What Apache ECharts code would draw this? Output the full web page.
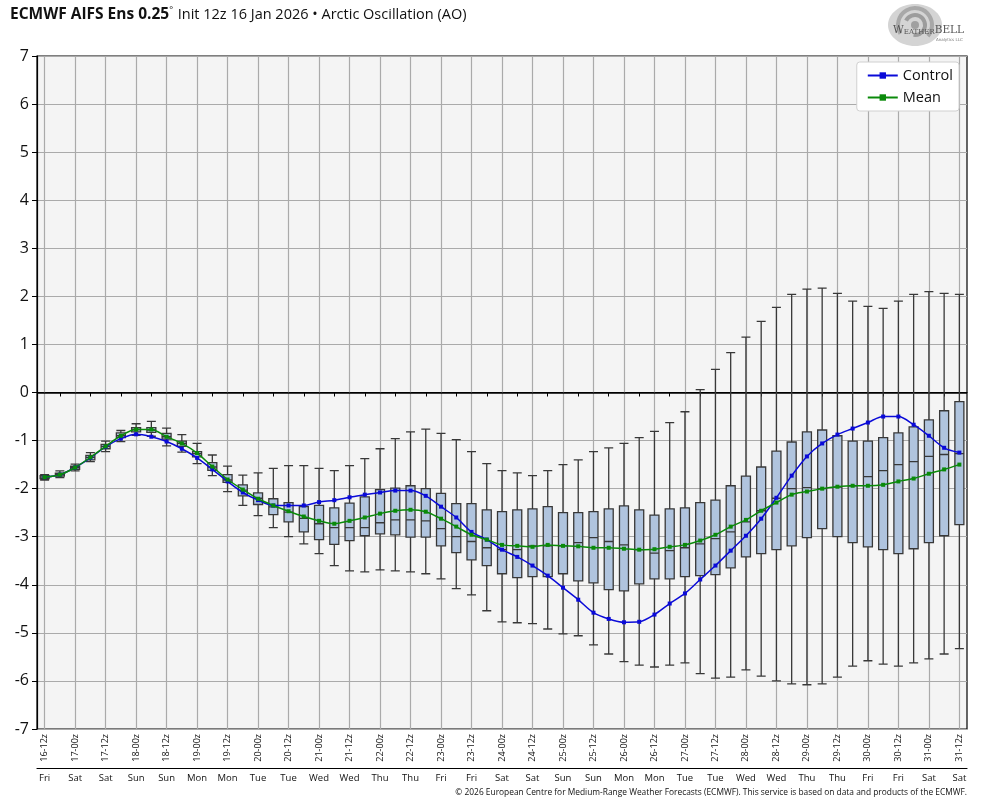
<!DOCTYPE html>
<html>
<head>
<meta charset="utf-8">
<script src="https://cdn.jsdelivr.net/npm/echarts@6/dist/echarts.min.js"></script>
<style>
html,body{margin:0;padding:0;background:#fff;}
#chart{width:984px;height:808px;}
</style>
</head>
<body>
<div id="chart"></div>
<script>
const categories = ['16-12z','16-18z',
 '17-00z','17-06z','17-12z','17-18z','18-00z','18-06z','18-12z','18-18z',
 '19-00z','19-06z','19-12z','19-18z','20-00z','20-06z','20-12z','20-18z',
 '21-00z','21-06z','21-12z','21-18z','22-00z','22-06z','22-12z','22-18z',
 '23-00z','23-06z','23-12z','23-18z','24-00z','24-06z','24-12z','24-18z',
 '25-00z','25-06z','25-12z','25-18z','26-00z','26-06z','26-12z','26-18z',
 '27-00z','27-06z','27-12z','27-18z','28-00z','28-06z','28-12z','28-18z',
 '29-00z','29-06z','29-12z','29-18z','30-00z','30-06z','30-12z','30-18z',
 '31-00z','31-06z','31-12z'];
const weekdayOfDay = {'16':'Fri','17':'Sat','18':'Sun','19':'Mon','20':'Tue','21':'Wed','22':'Thu','23':'Fri','24':'Sat','25':'Sun','26':'Mon','27':'Tue','28':'Wed','29':'Thu','30':'Fri','31':'Sat'};
const yTicks = {min:-7, max:7, interval:1};

const whiskerLow = [-1.82,-1.77,-1.63,-1.44,-1.23,-1.02,-0.89,-0.91,-1.11,-1.24,
 -1.48,-1.73,-2.06,-2.35,-2.56,-2.81,-3.00,-3.15,-3.35,-3.60,
 -3.71,-3.73,-3.69,-3.71,-3.73,-3.77,-3.875,-4.08,-4.21,-4.54,
 -4.77,-4.79,-4.81,-4.92,-5.02,-5.06,-5.25,-5.44,-5.60,-5.67,
 -5.71,-5.67,-5.625,-5.85,-5.94,-5.92,-5.77,-5.90,-6.00,-6.06,
 -6.08,-6.06,-5.92,-5.69,-5.58,-5.65,-5.69,-5.625,-5.54,-5.44,-5.33];
const boxLow = [-1.79,-1.74,-1.60,-1.40,-1.17,-0.94,-0.82,-0.83,-0.97,-1.12,
 -1.34,-1.62,-1.87,-2.15,-2.33,-2.54,-2.69,-2.90,-3.06,-3.16,
 -3.08,-2.98,-2.94,-2.96,-3.01,-3.01,-3.19,-3.33,-3.48,-3.60,
 -3.77,-3.85,-3.83,-3.83,-3.77,-3.92,-3.96,-4.10,-4.125,-3.98,
 -3.875,-3.875,-3.83,-3.81,-3.79,-3.65,-3.42,-3.35,-3.27,-3.19,
 -3.02,-2.83,-3.00,-3.125,-3.21,-3.27,-3.35,-3.25,-3.125,-2.98,-2.75];
const medians = [-1.76,-1.71,-1.56,-1.35,-1.12,-0.90,-0.77,-0.78,-0.92,-1.06,
 -1.27,-1.55,-1.82,-2.03,-2.20,-2.38,-2.49,-2.62,-2.73,-2.81,
 -2.81,-2.81,-2.71,-2.65,-2.65,-2.67,-2.83,-3.00,-3.10,-3.23,
 -3.27,-3.27,-3.19,-3.19,-3.19,-3.125,-3.02,-3.10,-3.17,-3.27,
 -3.34,-3.29,-3.23,-3.15,-3.04,-2.90,-2.69,-2.46,-2.20,-2.00,
 -1.98,-2.00,-1.97,-1.94,-1.75,-1.625,-1.50,-1.44,-1.33,-1.29,-1.27];
const boxHigh = [-1.73,-1.68,-1.53,-1.31,-1.08,-0.84,-0.73,-0.73,-0.85,-1.01,
 -1.23,-1.46,-1.71,-1.92,-2.09,-2.21,-2.29,-2.375,-2.35,-2.40,
 -2.30,-2.17,-2.02,-1.99,-1.94,-2.00,-2.10,-2.31,-2.31,-2.44,
 -2.48,-2.44,-2.42,-2.375,-2.50,-2.50,-2.48,-2.42,-2.36,-2.44,
 -2.55,-2.42,-2.40,-2.29,-2.24,-1.94,-1.74,-1.55,-1.22,-1.03,
 -0.82,-0.78,-0.90,-1.01,-1.01,-0.94,-0.84,-0.715,-0.57,-0.38,-0.19];
const whiskerHigh = [-1.71,-1.63,-1.49,-1.25,-1.01,-0.79,-0.65,-0.60,-0.74,-0.875,
 -1.06,-1.30,-1.53,-1.72,-1.67,-1.58,-1.52,-1.52,-1.58,-1.625,
 -1.52,-1.375,-1.17,-0.96,-0.82,-0.76,-0.85,-0.98,-1.23,-1.48,
 -1.625,-1.67,-1.73,-1.625,-1.50,-1.40,-1.23,-1.15,-1.06,-0.94,
 -0.81,-0.625,-0.40,0.06,0.48,0.83,1.15,1.48,1.77,2.04,
 2.15,2.17,2.06,1.90,1.79,1.75,1.90,2.04,2.10,2.06,2.04];
const controlValues = [-1.76,-1.71,-1.56,-1.36,-1.13,-0.96,-0.87,-0.92,-1.02,-1.17,
 -1.36,-1.60,-1.85,-2.08,-2.24,-2.35,-2.35,-2.35,-2.28,-2.24,
 -2.18,-2.125,-2.08,-2.04,-2.04,-2.15,-2.375,-2.60,-2.90,-3.06,
 -3.27,-3.42,-3.60,-3.81,-4.06,-4.31,-4.58,-4.71,-4.78,-4.77,
 -4.62,-4.39,-4.18,-3.89,-3.60,-3.29,-2.98,-2.625,-2.19,-1.73,
 -1.33,-1.06,-0.875,-0.75,-0.625,-0.50,-0.50,-0.67,-0.90,-1.15,-1.25];
const meanValues = [-1.76,-1.71,-1.56,-1.35,-1.12,-0.90,-0.77,-0.77,-0.92,-1.06,
 -1.26,-1.54,-1.81,-2.02,-2.21,-2.35,-2.47,-2.58,-2.67,-2.73,
 -2.67,-2.60,-2.52,-2.46,-2.44,-2.48,-2.625,-2.79,-2.96,-3.06,
 -3.17,-3.19,-3.21,-3.17,-3.19,-3.20,-3.23,-3.23,-3.25,-3.27,
 -3.26,-3.21,-3.17,-3.08,-2.96,-2.79,-2.65,-2.46,-2.29,-2.125,
 -2.06,-2.00,-1.96,-1.94,-1.94,-1.92,-1.85,-1.79,-1.69,-1.60,-1.50];

const boxData = categories.map((c, i) => [whiskerLow[i], boxLow[i], medians[i], boxHigh[i], whiskerHigh[i]]);
const gridLineMarks = categories.filter((c, i) => i % 2 === 0).map(c => ({xAxis: c}));

const FONT = '"Open Sans", "DejaVu Sans", sans-serif';
const chart = echarts.init(document.getElementById('chart'), null, {renderer: 'canvas'});

const option = {
  backgroundColor: '#ffffff',
  animation: false,
  textStyle: {fontFamily: FONT},
  title: {
    left: 5, top: 1,
    text: '{b|ECMWF AIFS Ens 0.25}{d|°} {n|Init 12z 16 Jan 2026 • Arctic Oscillation (AO)}',
    textStyle: {
      fontWeight: 'normal',
      rich: {
        b: {fontSize: 15.5, fontWeight: 'bold', color: '#111', fontFamily: FONT},
        d: {fontSize: 9, fontWeight: 'normal', color: '#111', verticalAlign: 'top', padding: [0,0,7,0], fontFamily: FONT},
        n: {fontSize: 14.5, fontWeight: 'normal', color: '#111', fontFamily: FONT}
      }
    }
  },
  legend: {
    right: 25, top: 62,
    orient: 'vertical',
    backgroundColor: '#ffffff',
    borderColor: '#d0d0d0', borderWidth: 1, borderRadius: 3,
    padding: [6, 6, 6, 10],
    itemGap: 7,
    itemWidth: 30, itemHeight: 8,
    textStyle: {fontSize: 14.5, color: '#111', fontFamily: FONT},
    data: ['Control', 'Mean']
  },
  grid: {
    left: 37, right: 17, top: 56, bottom: 79,
    show: true, backgroundColor: '#f4f4f4', borderColor: '#000', borderWidth: 1.2,
    containLabel: false
  },
  xAxis: [{
    type: 'category',
    data: categories,
    boundaryGap: true,
    axisLine: {show: true, lineStyle: {color: '#000', width: 1.2}},
    axisTick: {show: true, interval: 0, alignWithLabel: true, length: 4, lineStyle: {color: '#000'}},
    axisLabel: {interval: 1, rotate: 90, fontSize: 9, color: '#111', margin: 5, fontFamily: FONT},
    splitLine: {show: false}
  }, {
    type: 'category',
    data: categories,
    boundaryGap: true,
    position: 'bottom',
    offset: 39,
    axisLine: {show: true, lineStyle: {color: '#000', width: 1.2}},
    axisTick: {show: false},
    axisLabel: {interval: 1, fontSize: 9.5, color: '#111', margin: 5, fontFamily: FONT,
      formatter: v => weekdayOfDay[v.slice(0, 2)]},
    splitLine: {show: false}
  }],
  yAxis: {
    type: 'value',
    min: yTicks.min, max: yTicks.max, interval: yTicks.interval,
    axisLine: {show: true, lineStyle: {color: '#000', width: 1.2}},
    axisTick: {show: true, length: 5, lineStyle: {color: '#000'}},
    axisLabel: {fontSize: 16, color: '#111', margin: 8, fontFamily: FONT},
    splitLine: {show: true, lineStyle: {color: '#aaaaaa', width: 1.2}}
  },
  series: [{
    name: 'Ensemble',
    type: 'boxplot',
    xAxisIndex: 0,
    data: boxData,
    boxWidth: [9, 9],
    z: 3,
    itemStyle: {color: '#b0c4de', borderColor: '#383838', borderWidth: 1.3},
    markLine: {
      silent: true, symbol: 'none', z: 1,
      label: {show: false},
      lineStyle: {color: '#aaaaaa', width: 1.2, type: 'solid'},
      data: gridLineMarks.concat([{yAxis: 0, lineStyle: {color: '#000', width: 1.6, type: 'solid'}}])
    }
  }, {
    name: 'Control',
    type: 'line',
    data: controlValues,
    smooth: 0.3,
    symbol: 'rect', symbolSize: 4, showSymbol: true,
    z: 5,
    color: '#0a0ad8',
    lineStyle: {color: '#0a0ad8', width: 1.5},
    itemStyle: {color: '#0a0ad8'}
  }, {
    name: 'Mean',
    type: 'line',
    data: meanValues,
    smooth: 0.3,
    symbol: 'rect', symbolSize: 4, showSymbol: true,
    z: 6,
    color: '#0a8a0a',
    lineStyle: {color: '#0a8a0a', width: 1.5},
    itemStyle: {color: '#0a8a0a'}
  }],
  graphic: [
    {type: 'ellipse', shape: {cx: 915, cy: 25, rx: 27, ry: 21}, style: {fill: '#d4d4d4'}},
    {type: 'arc', shape: {cx: 915, cy: 25, r: 17, startAngle: 2.6, endAngle: 7.0}, style: {stroke: '#a8a8a8', lineWidth: 4, fill: null}},
    {type: 'arc', shape: {cx: 915, cy: 25, r: 10, startAngle: 3.6, endAngle: 8.0}, style: {stroke: '#9c9c9c', lineWidth: 4, fill: null}},
    {type: 'circle', shape: {cx: 915, cy: 25, r: 4}, style: {fill: '#a0a0a0'}},
    {type: 'text', left: 893, top: 25, z: 10,
      style: {text: '{a|W}{s|EATHER}{a|BELL}', fill: '#555',
        rich: {
          a: {fontSize: 10.5, fontFamily: '"DejaVu Serif", serif', fill: '#555', verticalAlign: 'bottom'},
          s: {fontSize: 7, fontFamily: '"DejaVu Serif", serif', fill: '#555', verticalAlign: 'bottom'}
        }}},
    {type: 'text', left: 936, top: 38, z: 10,
      style: {text: 'Analytics LLC', fill: '#777', font: '4px "DejaVu Sans", sans-serif'}},
    {type: 'text', right: 17, top: 789,
      style: {text: '© 2026 European Centre for Medium-Range Weather Forecasts (ECMWF). This service is based on data and products of the ECMWF.',
        fill: '#111', font: '8.4px "Open Sans", sans-serif'}}
  ]
};
chart.setOption(option);
</script>
</body>
</html>
